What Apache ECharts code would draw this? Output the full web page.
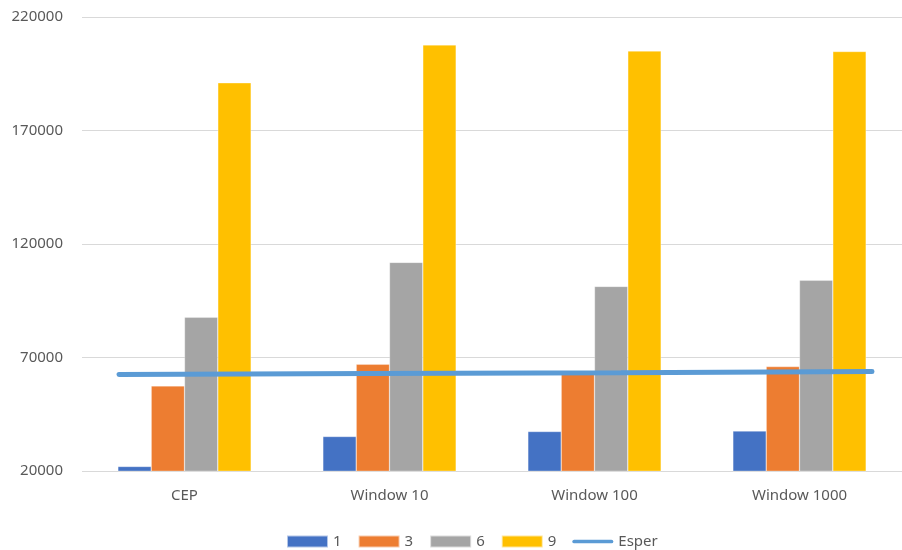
<!DOCTYPE html>
<html>
<head>
<meta charset="utf-8">
<script src="https://cdn.jsdelivr.net/npm/echarts@6/dist/echarts.min.js"></script>
<style>
  html, body { margin: 0; padding: 0; background: #fff; }
  #chart { width: 902px; height: 550px; }
</style>
</head>
<body>
<div id="chart"></div>
<script>
const categories = ['CEP', 'Window 10', 'Window 100', 'Window 1000'];
const seriesNames = ['1', '3', '6', '9'];
const values1 = [22000, 35200, 37400, 37600];
const values3 = [57500, 67000, 63000, 66000];
const values6 = [87700, 111900, 101300, 104000];
const values9 = [191000, 207700, 205000, 204800];
const esper = [62500, 63000, 63300, 63800];
const barColors = ['#4472C4', '#ED7D31', '#A5A5A5', '#FFC000'];

const font = 'Noto Sans';
const textColor = '#595959';

let chart = echarts.init(document.getElementById('chart'), null, { renderer: 'canvas' });

const barData = [values1, values3, values6, values9];

chart.setOption({
  animation: false,
  textStyle: { fontFamily: font },
  grid: [
    // main grid for bars
    { left: 82, top: 17, width: 827, height: 454 },
    // the Esper line runs from the first group's left edge to the last group's right edge
    { left: 119, top: 17, width: 753, height: 454 }
  ],
  legend: {
    top: 529,
    left: 281,
    itemWidth: 41,
    itemHeight: 12,
    itemGap: 16,
    textStyle: { fontFamily: font, fontSize: 15, color: textColor },
    data: [
      ...seriesNames.map(n => ({ name: n, icon: 'rect' })),
      { name: 'Esper', icon: 'path://M2,0 L42,0 A2,2 0 0 1 42,4 L2,4 A2,2 0 0 1 2,0 Z' }
    ]
  },
  xAxis: [
    {
      type: 'category',
      gridIndex: 0,
      data: categories,
      axisLine: { show: false },
      axisTick: { show: false },
      axisLabel: { fontFamily: font, fontSize: 15, color: textColor, margin: 17 }
    },
    {
      type: 'category',
      gridIndex: 1,
      data: categories,
      boundaryGap: false,
      show: false
    }
  ],
  yAxis: [
    {
      type: 'value',
      gridIndex: 0,
      min: 20000,
      max: 220000,
      interval: 50000,
      axisLine: { show: false },
      axisTick: { show: false },
      splitLine: { lineStyle: { color: '#D9D9D9', width: 1 } },
      axisLabel: { fontFamily: font, fontSize: 15, color: textColor, margin: 19, formatter: v => String(v) }
    },
    {
      type: 'value',
      gridIndex: 1,
      min: 20000,
      max: 220000,
      show: false
    }
  ],
  series: [
    ...barData.map((d, i) => ({
      name: seriesNames[i],
      type: 'bar',
      xAxisIndex: 0,
      yAxisIndex: 0,
      data: d,
      barGap: '0%',
      barCategoryGap: '35%',
      itemStyle: { color: barColors[i], borderColor: 'rgba(255,255,255,0.6)', borderWidth: 0.5 }
    })),
    {
      name: 'Esper',
      type: 'line',
      xAxisIndex: 1,
      yAxisIndex: 1,
      data: esper,
      symbol: 'none',
      z: 5,
      lineStyle: { color: '#5B9BD5', width: 5, cap: 'round' },
      itemStyle: { color: '#5B9BD5' }
    }
  ]
});
</script>
</body>
</html>
